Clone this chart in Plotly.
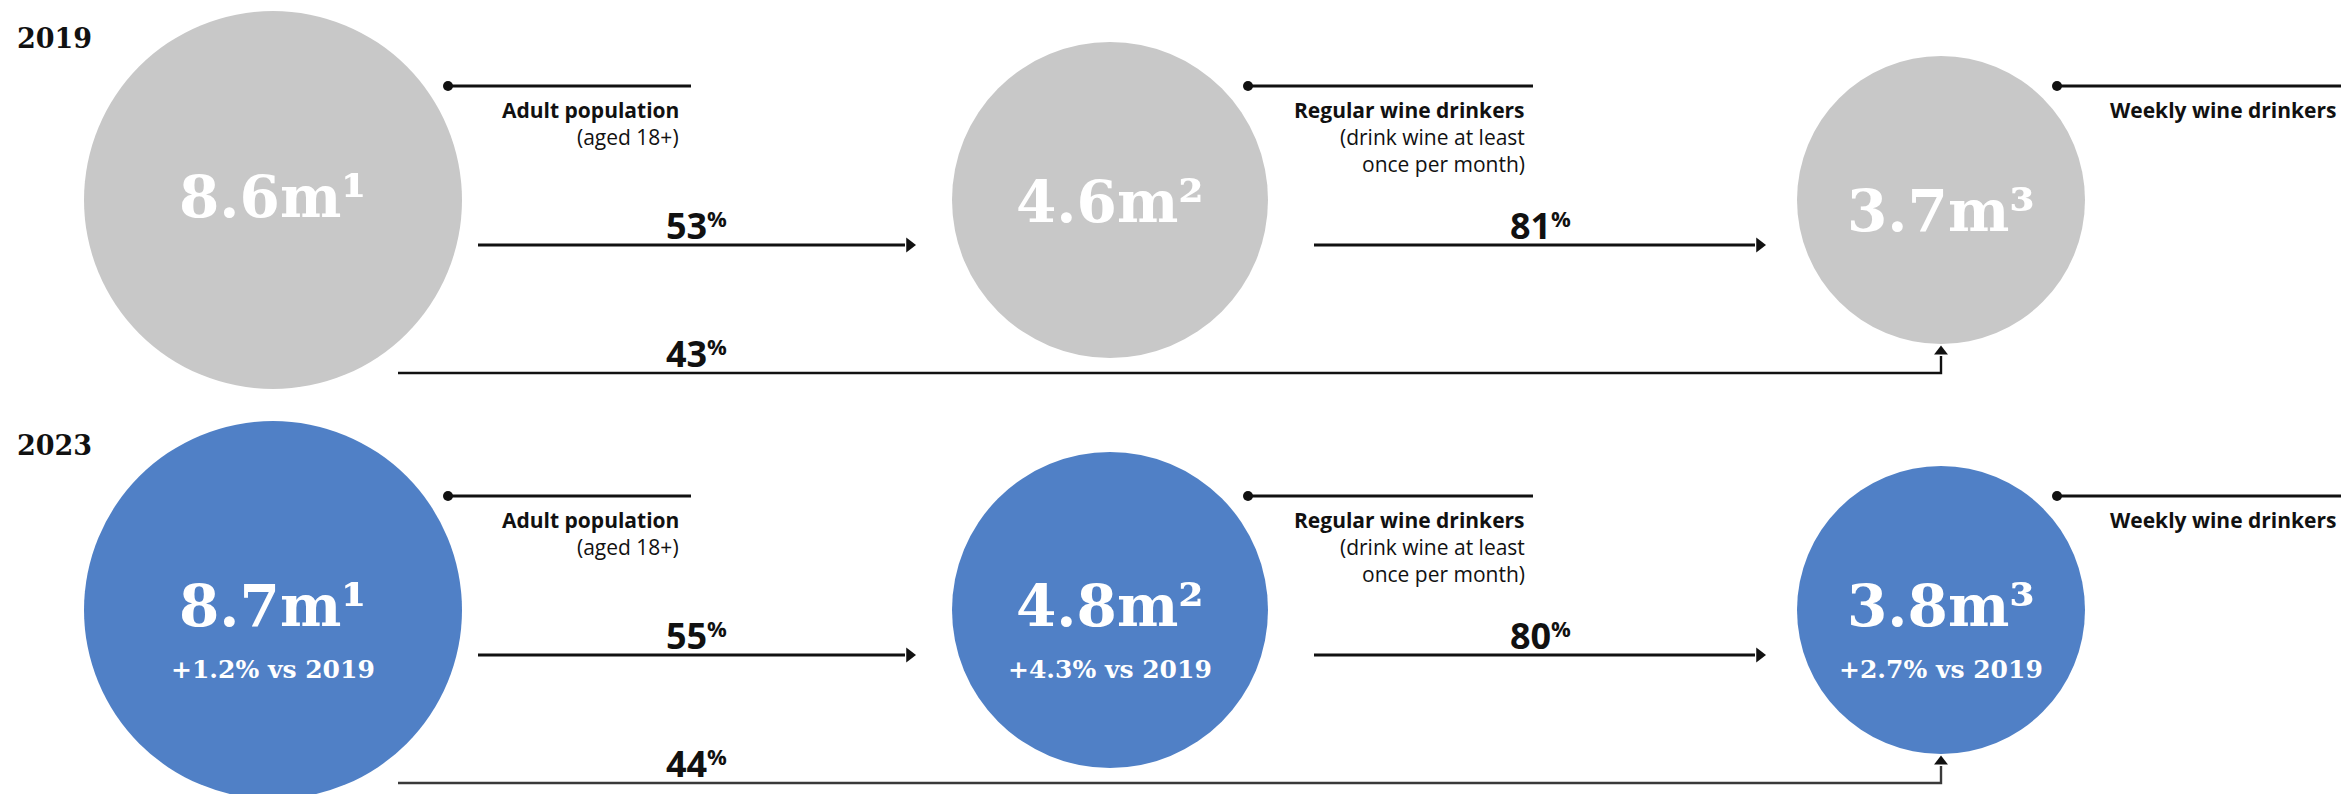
import plotly.graph_objects as go

# ---------------- data ----------------
years = ["2019", "2023"]
segments = ["Adult population", "Regular wine drinkers", "Weekly wine drinkers"]
segment_notes = [["(aged 18+)"], ["(drink wine at least", "once per month)"], []]
footnote_marks = ["\u00b9", "\u00b2", "\u00b3"]
values_2019 = [8.6, 4.6, 3.7]          # millions
values_2023 = [8.7, 4.8, 3.8]          # millions
change_2019 = [None, None, None]
change_2023 = [1.2, 4.3, 2.7]          # % change vs 2019
# conversion rates: adult->regular, regular->weekly, adult->weekly
conversion_2019 = [53, 81, 43]
conversion_2023 = [55, 80, 44]

values = [values_2019, values_2023]
changes = [change_2019, change_2023]
conversions = [conversion_2019, conversion_2023]

# ---------------- layout constants ----------------
W, H = 2341, 794
ROW_OFF = [0, 410]
CX = [273, 1110, 1941]
CY = 200
RAD = [189, 158, 144]
FILL = ["#C8C8C8", "#5080C6"]
MAIN_Y = [[197, 202, 211], [196, 196, 196]]
SUB_Y = 259
DOT_X = [448, 1248, 2057]
LEAD_END = [691, 1533, 2341]
LABEL_RIGHT = [681, 1527, 2338]
LEAD_Y = 86
ARROW_Y = 245
ARROWS = [(478, 916), (1314, 1766)]
PCT_X = [697, 1541, 697]
PCT_Y = [225, 225, 353]
BOTTOM_Y = 373
BOTTOM_X0 = 398
HEAD = 13

SERIF = "DejaVu Serif"
SANS = "Open Sans"
INK = "#111111"

fig = go.Figure()
shapes = []
annotations = []

for r, year in enumerate(years):
    off = ROW_OFF[r]
    annotations.append(dict(x=15, y=38 + off - 3 * r, text=year, showarrow=False,
                            xanchor="left", yanchor="middle",
                            font=dict(family=SERIF, size=27, color=INK, weight="bold")))
    for i in range(3):
        cx, cy, rad = CX[i], CY + off, RAD[i]
        shapes.append(dict(type="circle", xref="x", yref="y", layer="below",
                           x0=cx - rad, x1=cx + rad, y0=cy - rad, y1=cy + rad,
                           fillcolor=FILL[r], line=dict(width=0)))
        annotations.append(dict(x=cx, y=MAIN_Y[r][i] + off,
                                text=f"{values[r][i]:.1f}m{footnote_marks[i]}",
                                showarrow=False, xanchor="center", yanchor="middle",
                                font=dict(family=SERIF, size=58, color="white", weight="bold")))
        if changes[r][i] is not None:
            annotations.append(dict(x=cx, y=SUB_Y + off,
                                    text=f"+{changes[r][i]:.1f}% vs {years[0]}",
                                    showarrow=False, xanchor="center", yanchor="middle",
                                    font=dict(family=SERIF, size=25, color="white", weight="bold")))
        ly = LEAD_Y + off
        shapes.append(dict(type="line", xref="x", yref="y", x0=DOT_X[i], x1=LEAD_END[i],
                           y0=ly, y1=ly, line=dict(color=INK, width=3)))
        annotations.append(dict(x=LABEL_RIGHT[i], y=110 + off, text=segments[i],
                                showarrow=False, xanchor="right", yanchor="middle",
                                font=dict(family=SANS, size=21, color=INK, weight="bold")))
        for k, note in enumerate(segment_notes[i]):
            annotations.append(dict(x=LABEL_RIGHT[i], y=137 + 26.5 * k + off, text=note,
                                    showarrow=False, xanchor="right", yanchor="middle",
                                    font=dict(family=SANS, size=21, color=INK)))
    # leader dots
    fig.add_trace(go.Scatter(x=DOT_X, y=[LEAD_Y + off] * 3, mode="markers",
                             marker=dict(size=10, color=INK), hoverinfo="skip"))
    # horizontal arrows (shaft + head)
    ay = ARROW_Y + off
    for (x0, x1) in ARROWS:
        shapes.append(dict(type="line", xref="x", yref="y", x0=x0, x1=x1 - HEAD + 2,
                           y0=ay, y1=ay, line=dict(color=INK, width=2.8)))
    fig.add_trace(go.Scatter(x=[a[1] - HEAD / 2 for a in ARROWS], y=[ay, ay], mode="markers",
                             marker=dict(symbol="triangle-right", size=HEAD, color=INK,
                                         line=dict(width=0)), hoverinfo="skip"))
    # bottom elbow connector
    by = BOTTOM_Y + off
    tip = CY + off + RAD[2] + 1
    shapes.append(dict(type="path", xref="x", yref="y",
                       path=f"M{BOTTOM_X0},{by} L{CX[2]},{by} L{CX[2]},{tip + HEAD - 2}",
                       line=dict(color=INK if r == 0 else "#3a3a3a", width=2.4)))
    fig.add_trace(go.Scatter(x=[CX[2]], y=[tip + HEAD / 2], mode="markers",
                             marker=dict(symbol="triangle-up", size=HEAD - 1, color=INK,
                                         line=dict(width=0)), hoverinfo="skip"))
    # percentage labels: number + raised small "%"
    for j in range(3):
        px, py = PCT_X[j], PCT_Y[j] + off
        annotations.append(dict(x=px + 12, y=py, text=f"{conversions[r][j]}",
                                showarrow=False, xanchor="right", yanchor="middle",
                                font=dict(family=SANS, size=36, color=INK, weight="bold")))
        annotations.append(dict(x=px + 8, y=py - 7, text="%",
                                showarrow=False, xanchor="left", yanchor="middle",
                                font=dict(family=SANS, size=22, color=INK, weight="bold")))

fig.update_layout(
    width=W, height=H, margin=dict(l=0, r=0, t=0, b=0),
    paper_bgcolor="white", plot_bgcolor="white", showlegend=False,
    xaxis=dict(range=[0, W], visible=False, fixedrange=True),
    yaxis=dict(range=[H, 0], visible=False, fixedrange=True),
    shapes=shapes, annotations=annotations,
)

fig.write_html("out.html")
